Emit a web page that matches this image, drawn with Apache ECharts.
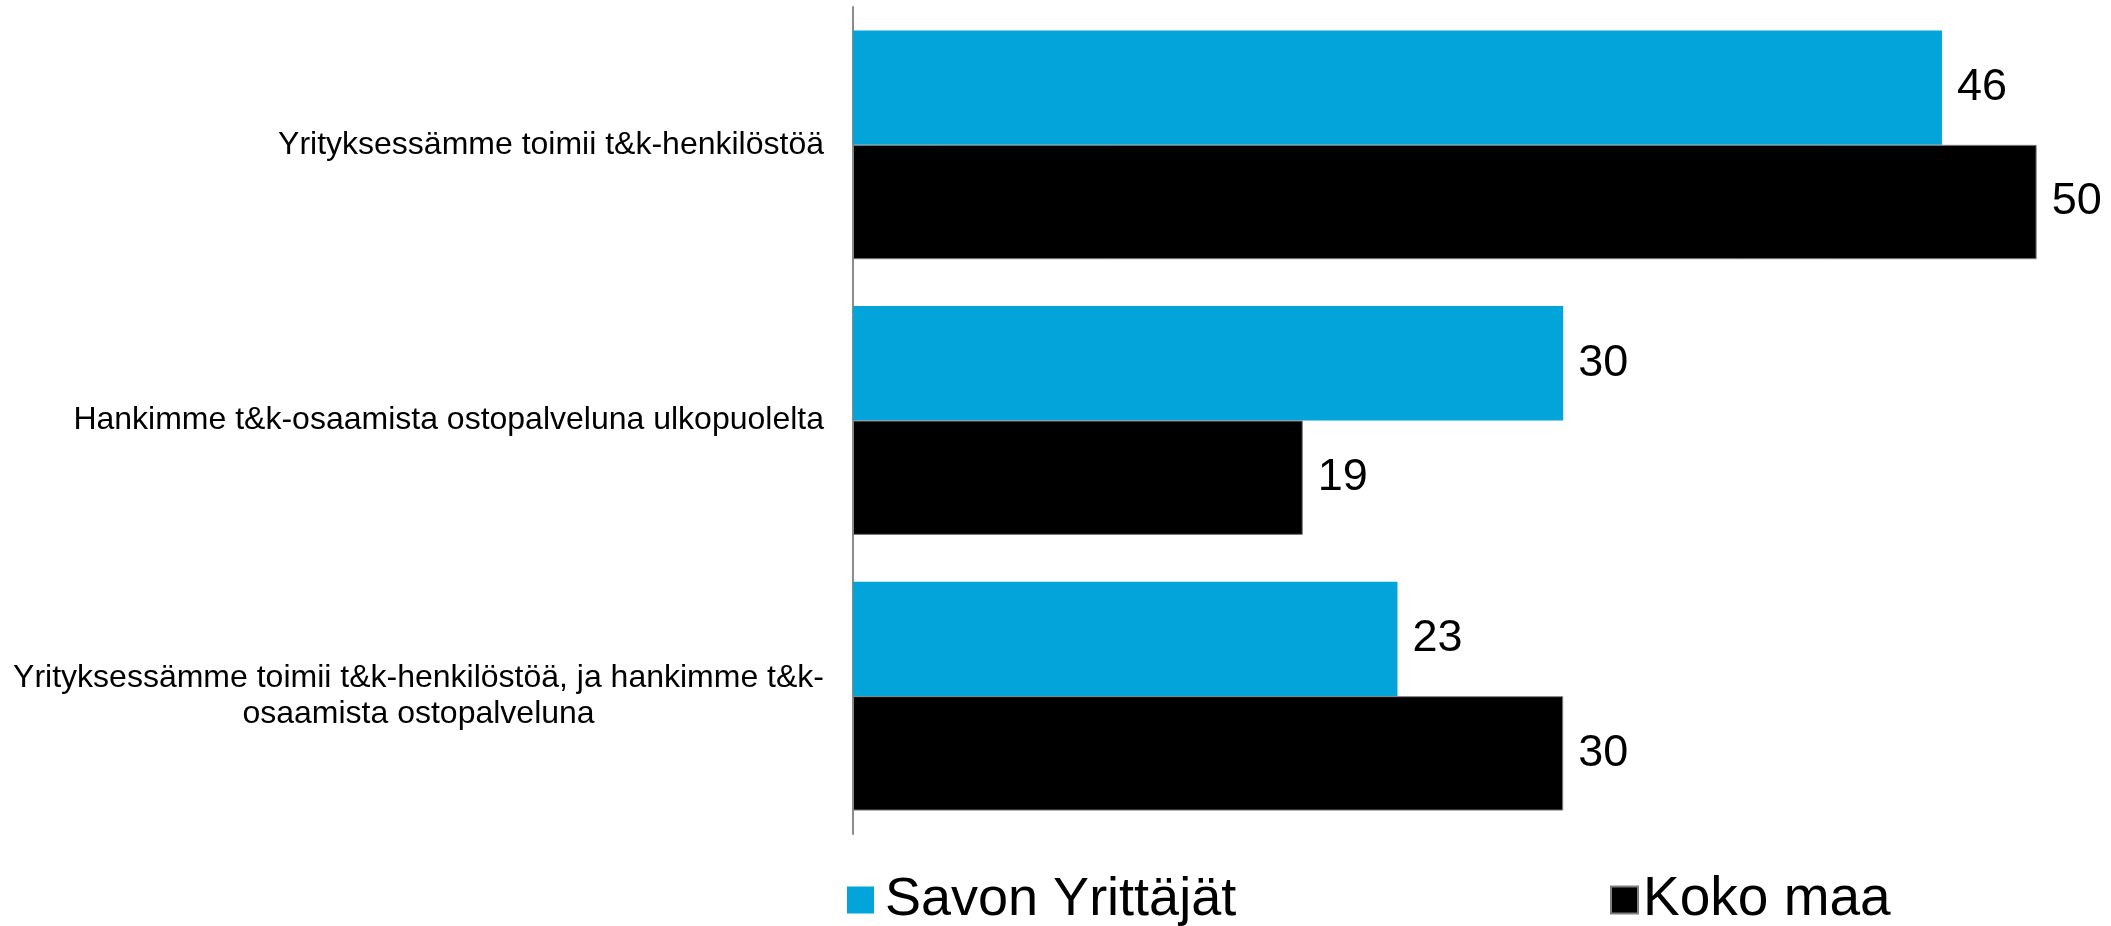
<!DOCTYPE html>
<html>
<head>
<meta charset="utf-8">
<script src="https://cdn.jsdelivr.net/npm/echarts@6/dist/echarts.min.js"></script>
<style>
html,body{margin:0;padding:0;background:#fff;}
#chart{width:2111px;height:926px;}
</style>
</head>
<body>
<div id="chart"></div>
<script>
const categories = [
  'Yrityksessämme toimii t&k-henkilöstöä',
  'Hankimme t&k-osaamista ostopalveluna ulkopuolelta',
  'Yrityksessämme toimii t&k-henkilöstöä, ja hankimme t&k-\nosaamista ostopalveluna'
];
const seriesNames = ['Savon Yrittäjät', 'Koko maa'];
const savonValues = [46, 30, 23];
const kokoMaaValues = [50, 19, 30];

const FONT = '"Liberation Sans", Arial, Helvetica, sans-serif';
const chart = echarts.init(document.getElementById('chart'), null, {renderer: 'canvas'});

chart.setOption({
  backgroundColor: '#ffffff',
  animation: false,
  textStyle: {fontFamily: FONT},
  grid: {left: 853, right: 27, top: 7, bottom: 92, containLabel: false},
  legend: [
    {
      data: [seriesNames[0]], left: 842, top: 867, icon: 'rect',
      itemWidth: 27, itemHeight: 27,
      textStyle: {fontFamily: FONT, fontSize: 54, lineHeight: 56, color: '#000', padding: [0, 0, 0, 6]}
    },
    {
      data: [seriesNames[1]], left: 1605, top: 867, icon: 'rect',
      itemWidth: 27, itemHeight: 27,
      textStyle: {fontFamily: FONT, fontSize: 55, lineHeight: 56, color: '#000', padding: [0, 0, 0, 0]}
    }
  ],
  xAxis: {
    type: 'value', min: 0, max: 52, show: false,
    splitLine: {show: false}
  },
  yAxis: {
    type: 'category', data: categories, inverse: true,
    axisLine: {show: true, lineStyle: {color: '#8c8c8c', width: 2}},
    axisTick: {show: false},
    axisLabel: {
      margin: 29, color: '#000', fontFamily: FONT, fontSize: 32,
      formatter: function (v) {
        return v.split('\n').map(function (l) { return '{c|' + l + '}'; }).join('\n');
      },
      rich: {c: {align: 'center', fontSize: 32, fontFamily: FONT, color: '#000', lineHeight: 36}}
    }
  },
  series: [
    {
      name: seriesNames[0], type: 'bar', data: savonValues,
      barGap: '0%', barCategoryGap: '17%',
      itemStyle: {color: '#02A4DA'},
      label: {show: true, position: 'right', distance: 15, color: '#000', fontSize: 45, fontFamily: FONT}
    },
    {
      name: seriesNames[1], type: 'bar', data: kokoMaaValues,
      barGap: '0%', barCategoryGap: '17%',
      itemStyle: {color: '#000000', borderColor: '#7f7f7f', borderWidth: 1},
      label: {show: true, position: 'right', distance: 15, color: '#000', fontSize: 45, fontFamily: FONT}
    }
  ]
});
</script>
</body>
</html>
